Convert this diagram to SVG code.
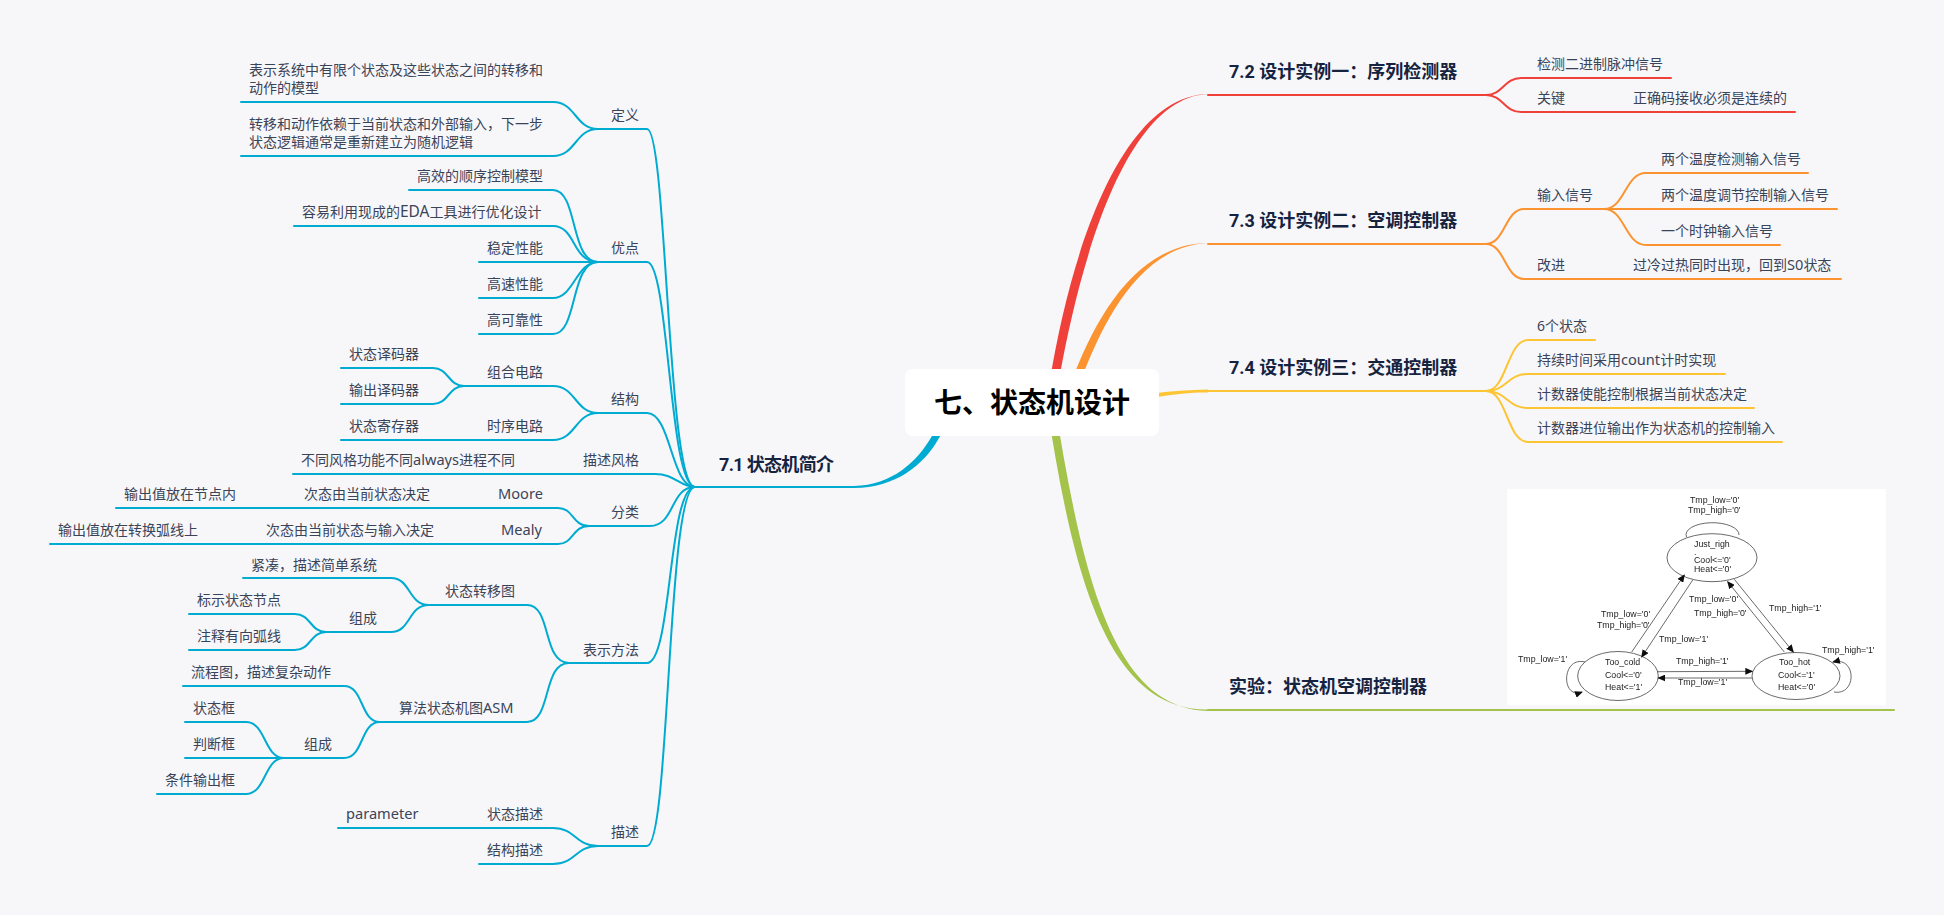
<svg xmlns="http://www.w3.org/2000/svg" width="1944" height="915" viewBox="0 0 1944 915">
<style>
text{font-family:"Noto Sans","Noto Sans CJK SC",sans-serif;font-size:14px;fill:#3a4458}
.l{font-size:14.6px}
.b{font-family:"Roboto","Noto Sans CJK SC",sans-serif;font-size:18px;font-weight:700;fill:#16233f}
.root{font-size:28px;font-weight:700;fill:#000}
.c{fill:none;stroke-width:2;stroke-linecap:round}
.blue{stroke:#00abd2}.red{stroke:#f0403a}.orange{stroke:#fb9430}.yellow{stroke:#fdc534}.green{stroke:#a4c34a}
.s{font-family:"Liberation Sans",sans-serif;font-size:8.8px;fill:#222}
.e{fill:none;stroke:#444;stroke-width:.8}
.a{fill:none;stroke:#444;stroke-width:.8;marker-end:url(#ah)}
</style>
<defs><marker id="ah" markerWidth="8" markerHeight="7" refX="7" refY="3.5" orient="auto" markerUnits="userSpaceOnUse"><path d="M0 0L8 3.5L0 7Z" fill="#111"/></marker>
<filter id="soft" x="0" y="0" width="1" height="1"><feGaussianBlur stdDeviation="0.35"/></filter></defs>
<rect width="1944" height="915" fill="#f7f7fa"/>
<g id="connectors">
<path fill="#00abd2" d="M854 486C892 485 917 462 932 436L955 400L962 404L939 438C924 465 895 488 854 488Z"/>
<path fill="#f0403a" d="M1050 380C1073 240 1125 96 1208 94C1130 97 1083 245 1059 380Z"/>
<path fill="#fb9430" d="M1072 380C1095 320 1135 244 1208 243C1140 246 1103 322 1081 380Z"/>
<path fill="#fdc534" d="M1150 394C1170 391 1190 390 1208 389.5V392.5C1190 392 1170 395 1150 398Z"/>
<path fill="#a4c34a" d="M1046 400C1071 560 1102 711 1208 709.5V711C1108 709 1080 558 1054 400Z"/>
<path class="c blue" d="M695 487H854"/>
<path class="c blue" d="M695 487C667 487 667 129 647 129H598"/>
<path class="c blue" d="M695 487C669 487 669 262 647 262H598"/>
<path class="c blue" d="M695 487C671 487 671 413 647 413H598"/>
<path class="c blue" d="M695 487C680 487 675 474 655 474H293"/>
<path class="c blue" d="M695 487C670 487 675 526 650 526H589"/>
<path class="c blue" d="M695 487C668 487 672 663 647 663H569"/>
<path class="c blue" d="M695 487C667 487 670 846 647 846H598"/>
<path class="c blue" d="M598 129C575 129 576 102 553 102H241"/>
<path class="c blue" d="M598 129C575 129 576 156 553 156H241"/>
<path class="c blue" d="M598 262C570 262 578 190 553 190H409"/>
<path class="c blue" d="M598 262C572 262 576 226 553 226H294"/>
<path class="c blue" d="M598 262H479"/>
<path class="c blue" d="M598 262C576 262 574 298 553 298H479"/>
<path class="c blue" d="M598 262C570 262 578 334 553 334H479"/>
<path class="c blue" d="M598 413C575 413 576 386 553 386H464"/>
<path class="c blue" d="M598 413C575 413 576 440 553 440H341"/>
<path class="c blue" d="M464 386C448 386 449 368 433 368H341"/>
<path class="c blue" d="M464 386C448 386 449 404 433 404H341"/>
<path class="c blue" d="M589 526C572 526 574 508 558 508H116"/>
<path class="c blue" d="M589 526C572 526 574 544 558 544H50"/>
<path class="c blue" d="M569 663C542 663 552 605 527 605H429"/>
<path class="c blue" d="M569 663C542 663 552 722 527 722H380"/>
<path class="c blue" d="M429 605C408 605 411 578 391 578H243"/>
<path class="c blue" d="M429 605C408 605 411 632 391 632H326"/>
<path class="c blue" d="M326 632C310 632 311 614 295 614H189"/>
<path class="c blue" d="M326 632C310 632 311 650 295 650H189"/>
<path class="c blue" d="M380 722C360 722 364 686 344 686H183"/>
<path class="c blue" d="M380 722C360 722 364 758 344 758H284"/>
<path class="c blue" d="M284 758C264 758 266 722 246 722H185"/>
<path class="c blue" d="M284 758H185"/>
<path class="c blue" d="M284 758C264 758 266 794 246 794H157"/>
<path class="c blue" d="M598 846C575 846 576 828 553 828H338"/>
<path class="c blue" d="M598 846C575 846 576 864 553 864H479"/>
<path class="c red" d="M1208 95H1486"/>
<path class="c red" d="M1486 95C1503 95 1504 78 1521 78H1671"/>
<path class="c red" d="M1486 95C1503 95 1504 112 1521 112H1795"/>
<path class="c orange" d="M1208 244H1486"/>
<path class="c orange" d="M1486 244C1505 244 1505 209 1524 209H1837"/>
<path class="c orange" d="M1486 244C1505 244 1505 279 1524 279H1841"/>
<path class="c orange" d="M1604 209C1625 209 1625 173 1646 173H1808"/>
<path class="c orange" d="M1604 209C1625 209 1625 245 1646 245H1780"/>
<path class="c yellow" d="M1208 391H1486"/>
<path class="c yellow" d="M1486 391C1507 391 1507 340 1528 340H1595"/>
<path class="c yellow" d="M1486 391C1507 391 1507 374 1528 374H1725"/>
<path class="c yellow" d="M1486 391C1507 391 1507 408 1528 408H1754"/>
<path class="c yellow" d="M1486 391C1507 391 1507 442 1528 442H1782"/>
<path class="c green" d="M1208 710H1894"/>
</g>
<g id="root"><rect x="905" y="369" width="254" height="67" rx="8" fill="#fff"/><text class="root" x="934" y="413">七、状态机设计</text></g>
<g id="n71"><text class="b" x="719" y="471" textLength="115">7.1 状态机简介</text></g>
<g id="n-def"><text x="611" y="120">定义</text></g>
<g id="n-def1"><text x="249" y="75">表示系统中有限个状态及这些状态之间的转移和</text><text x="249" y="93">动作的模型</text></g>
<g id="n-def2"><text x="249" y="129">转移和动作依赖于当前状态和外部输入，下一步</text><text x="249" y="147">状态逻辑通常是重新建立为随机逻辑</text></g>
<g id="n-adv"><text x="611" y="253">优点</text></g>
<g id="n-adv1"><text x="417" y="181">高效的顺序控制模型</text></g>
<g id="n-adv2"><text x="302" y="217">容易利用现成的<tspan font-size="15.5">EDA</tspan>工具进行优化设计</text></g>
<g id="n-adv3"><text x="487" y="253">稳定性能</text></g>
<g id="n-adv4"><text x="487" y="289">高速性能</text></g>
<g id="n-adv5"><text x="487" y="325">高可靠性</text></g>
<g id="n-str"><text x="611" y="404">结构</text></g>
<g id="n-str1"><text x="487" y="377">组合电路</text></g>
<g id="n-str11"><text x="349" y="359">状态译码器</text></g>
<g id="n-str12"><text x="349" y="395">输出译码器</text></g>
<g id="n-str2"><text x="487" y="431">时序电路</text></g>
<g id="n-str21"><text x="349" y="431">状态寄存器</text></g>
<g id="n-sty"><text x="583" y="465">描述风格</text></g>
<g id="n-sty1"><text x="301" y="465">不同风格功能不同<tspan class="l">always</tspan>进程不同</text></g>
<g id="n-cla"><text x="611" y="517">分类</text></g>
<g id="n-moore"><text class="l" x="498" y="499">Moore</text></g>
<g id="n-moore1"><text x="304" y="499">次态由当前状态决定</text></g>
<g id="n-moore2"><text x="124" y="499">输出值放在节点内</text></g>
<g id="n-mealy"><text class="l" x="501" y="535">Mealy</text></g>
<g id="n-mealy1"><text x="266" y="535">次态由当前状态与输入决定</text></g>
<g id="n-mealy2"><text x="58" y="535">输出值放在转换弧线上</text></g>
<g id="n-rep"><text x="583" y="655">表示方法</text></g>
<g id="n-std"><text x="445" y="596">状态转移图</text></g>
<g id="n-std1"><text x="251" y="570">紧凑，描述简单系统</text></g>
<g id="n-std2"><text x="349" y="623">组成</text></g>
<g id="n-std21"><text x="197" y="605">标示状态节点</text></g>
<g id="n-std22"><text x="197" y="641">注释有向弧线</text></g>
<g id="n-asm"><text x="399" y="713">算法状态机图<tspan class="l">ASM</tspan></text></g>
<g id="n-asm1"><text x="191" y="677">流程图，描述复杂动作</text></g>
<g id="n-asm2"><text x="304" y="749">组成</text></g>
<g id="n-asm21"><text x="193" y="713">状态框</text></g>
<g id="n-asm22"><text x="193" y="749">判断框</text></g>
<g id="n-asm23"><text x="165" y="785">条件输出框</text></g>
<g id="n-des"><text x="611" y="837">描述</text></g>
<g id="n-des1"><text x="487" y="819">状态描述</text></g>
<g id="n-des11"><text class="l" x="346" y="819">parameter</text></g>
<g id="n-des2"><text x="487" y="855">结构描述</text></g>
<g id="n72"><text class="b" x="1229" y="78">7.2 设计实例一：序列检测器</text></g>
<g id="n72a"><text x="1537" y="69">检测二进制脉冲信号</text></g>
<g id="n72b"><text x="1537" y="103">关键</text></g>
<g id="n72b1"><text x="1633" y="103">正确码接收必须是连续的</text></g>
<g id="n73"><text class="b" x="1229" y="227">7.3 设计实例二：空调控制器</text></g>
<g id="n73a"><text x="1537" y="200">输入信号</text></g>
<g id="n73a1"><text x="1661" y="164">两个温度检测输入信号</text></g>
<g id="n73a2"><text x="1661" y="200">两个温度调节控制输入信号</text></g>
<g id="n73a3"><text x="1661" y="236">一个时钟输入信号</text></g>
<g id="n73b"><text x="1537" y="270">改进</text></g>
<g id="n73b1"><text x="1633" y="270">过冷过热同时出现，回到<tspan class="l">S0</tspan>状态</text></g>
<g id="n74"><text class="b" x="1229" y="374">7.4 设计实例三：交通控制器</text></g>
<g id="n74a"><text x="1537" y="331">6个状态</text></g>
<g id="n74b"><text x="1537" y="365">持续时间采用<tspan class="l">count</tspan>计时实现</text></g>
<g id="n74c"><text x="1537" y="399">计数器使能控制根据当前状态决定</text></g>
<g id="n74d"><text x="1537" y="433">计数器进位输出作为状态机的控制输入</text></g>
<g id="n-exp"><text class="b" x="1229" y="693">实验：状态机空调控制器</text></g>
<g id="fsm" filter="url(#soft)">
<rect x="1507" y="489" width="379" height="216" fill="#fff"/>
<g id="fsm-just"><ellipse class="e" cx="1712" cy="557.7" rx="45" ry="24"/><path class="e" d="M1686.5 537A26.5 12 0 1 1 1739 535"/>
<text class="s" x="1694" y="547">Just_righ</text><text class="s" x="1694" y="555">.</text><text class="s" x="1694" y="562.5">Cool&lt;='0'</text><text class="s" x="1694" y="572">Heat&lt;='0'</text></g>
<g id="fsm-cold"><ellipse class="e" cx="1618" cy="676" rx="40.3" ry="24.5"/><path class="a" d="M1585 662C1561 656 1561 700 1582 692"/>
<text class="s" x="1605" y="665">Too_cold</text><text class="s" x="1605" y="678">Cool&lt;='0'</text><text class="s" x="1605" y="689.5">Heat&lt;='1'</text></g>
<g id="fsm-hot"><ellipse class="e" cx="1796" cy="676" rx="44" ry="23.5"/><path class="a" d="M1834 692C1857 696 1857 656 1833 662"/>
<text class="s" x="1779" y="665">Too_hot</text><text class="s" x="1778" y="678">Cool&lt;='1'</text><text class="s" x="1778" y="690">Heat&lt;='0'</text></g>
<path class="a" d="M1692.7 580L1641.7 657"/><path class="a" d="M1631.7 652L1684.3 575"/>
<path class="a" d="M1734.3 579.3L1793.3 652"/><path class="a" d="M1784.3 652L1727.7 581.7"/>
<path class="a" d="M1657.3 671.7L1752.3 671.3"/><path class="a" d="M1752.3 678L1658.3 678"/>
<text class="s" x="1690" y="502.5">Tmp_low='0'</text><text class="s" x="1688" y="513">Tmp_high='0'</text>
<text class="s" x="1689" y="602">Tmp_low='0'</text><text class="s" x="1694" y="616">Tmp_high='0'</text>
<text class="s" x="1769" y="611">Tmp_high='1'</text>
<text class="s" x="1601" y="617">Tmp_low='0'</text><text class="s" x="1597" y="628">Tmp_high='0'</text>
<text class="s" x="1659" y="642">Tmp_low='1'</text>
<text class="s" x="1822" y="653">Tmp_high='1'</text>
<text class="s" x="1518" y="662">Tmp_low='1'</text>
<text class="s" x="1676" y="664">Tmp_high='1'</text>
<text class="s" x="1678" y="685">Tmp_low='1'</text>
</g>
</svg>
